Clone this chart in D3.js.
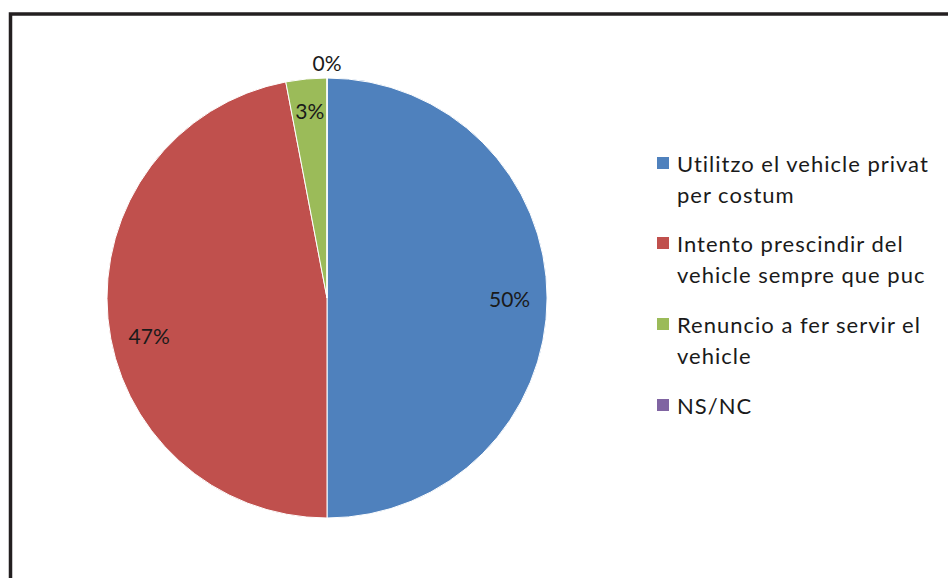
<!DOCTYPE html>
<html><head><meta charset="utf-8">
<script src="https://d3js.org/d3.v7.min.js"></script>
<style>html,body{margin:0;padding:0;background:#fff;}</style>
</head><body>
<script>
const categories = ["Utilitzo el vehicle privat per costum", "Intento prescindir del vehicle sempre que puc", "Renuncio a fer servir el vehicle", "NS/NC"];
const values = [50, 47, 3, 0];
const labels = ["50%", "47%", "3%", "0%"];
const legendLines = [["Utilitzo el vehicle privat", "per costum"], ["Intento prescindir del", "vehicle sempre que puc"], ["Renuncio a fer servir el", "vehicle"], ["NS/NC"]];
const colors = ["#4f81bd", "#c0504d", "#9bbb59", "#8064a2"];

const W = 948, H = 578;
const svg = d3.select("body").append("svg").attr("width", W).attr("height", H);
const font = "Lato, 'Open Sans', sans-serif";

svg.append("rect").attr("x", 10.5).attr("y", 14).attr("width", W + 20).attr("height", H + 20)
  .attr("fill", "#fff").attr("stroke", "#231f20").attr("stroke-width", 3.5);

const cx = 327, cy = 298, r = 220;
const pie = d3.pie().sort(null).value(d => d)(values);
const arc = d3.arc().innerRadius(0).outerRadius(r);
const g = svg.append("g").attr("transform", `translate(${cx},${cy})`);
g.selectAll("path").data(pie).join("path")
  .attr("d", arc).attr("fill", (d, i) => colors[i])
  .attr("stroke", "#fff").attr("stroke-width", 1);

// label placement (Excel "best fit" style nudges)
const labelArc = d3.arc().innerRadius(r * 0.83).outerRadius(r * 0.83);
const outArc = d3.arc().innerRadius(r * 1.07).outerRadius(r * 1.07);
const nudge = [[0, 0], [4, 20], [0, -6], [0, 0]];
g.selectAll("text.lbl").data(pie).join("text").attr("class", "lbl")
  .attr("transform", (d, i) => {
    const c = (d.value > 0 ? labelArc : outArc).centroid(d);
    return `translate(${c[0] + nudge[i][0]},${c[1] + nudge[i][1]})`;
  })
  .attr("text-anchor", "middle").attr("dominant-baseline", "central")
  .attr("font-family", font).attr("font-size", 21).attr("fill", "#1a1a1a")
  .text((d, i) => labels[i]);

const lg = svg.append("g").attr("transform", "translate(657,0)");
const starts = [163, 243, 324, 405];
const lineH = 31;
legendLines.forEach((lines, i) => {
  lg.append("rect").attr("x", 0).attr("y", starts[i] - 6).attr("width", 12).attr("height", 12).attr("fill", colors[i]);
  lines.forEach((t, j) => {
    lg.append("text").attr("x", 20).attr("y", starts[i] + j * lineH)
      .attr("dominant-baseline", "central").attr("letter-spacing", 1)
      .attr("font-family", font).attr("font-size", 22).attr("fill", "#1a1a1a").text(t);
  });
});
</script>
</body></html>
